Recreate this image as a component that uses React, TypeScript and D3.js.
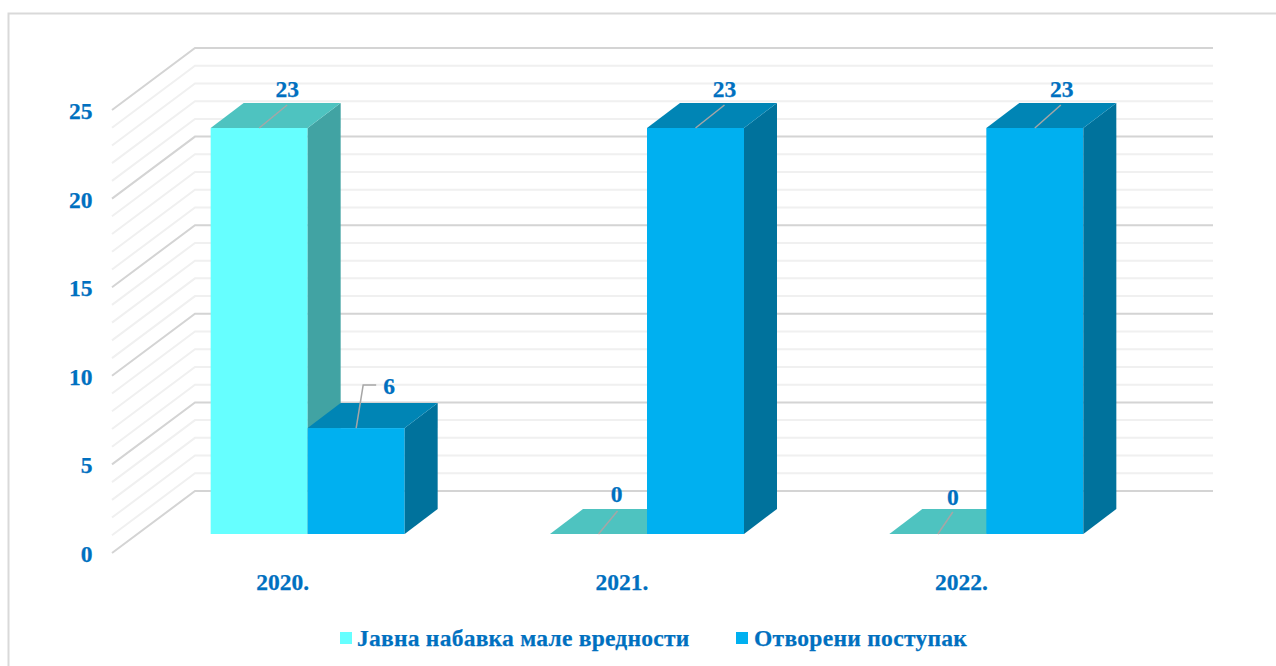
import React from "react";
import * as d3 from "d3";

const years = ["2020.", "2021.", "2022."];
const seriesNames = ["Јавна набавка мале вредности", "Отворени поступак"];
const smallValue = [23, 0, 0];
const openValue = [6, 23, 23];
const yTicks = [0, 5, 10, 15, 20, 25];
const minorTicks = d3.range(0, 26);

const frontFill = ["#66FFFF", "#00B0F0"];
const topFill = ["#4EC3C0", "#0085B5"];
const sideFill = ["#41A3A3", "#00729C"];
const TEXT = "#0070C0";
const FONT = "'Liberation Serif', serif";

export default function App() {
  const W = 1276, H = 666;
  const dx = 33, dy = -25;
  const wallDx = 83, wallDy = -62;
  const wallLeft = 112;
  const wallRight = 1213;
  const y = d3.scaleLinear().domain([0, 25]).range([553, 110]);
  const barY = d3.scaleLinear().domain([0, 23]).range([534, 128]);
  const x0 = d3.scaleBand().domain(years).range([138, 1156]);
  const bw = 97;
  const barX = (i: number, s: number) => (x0(years[i]) as number) + x0.bandwidth() / 2 - bw + s * bw;
  const series = [smallValue, openValue];

  // Hand-placed leader ends relative to the centre of each bar's top edge: [series][year]
  const leaderEnd = [
    [[28, -23], [19, -23], [15, -22]],
    [[7, -43], [29, -23], [26, -23]],
  ];
  const labelPos = [
    [[28, -31], [18, -32], [15, -29]],
    [[33, -34], [29, -31], [27, -31]],
  ];
  const textProps = {
    fontFamily: FONT,
    fontWeight: "bold",
    fontSize: 23.5,
    fill: TEXT,
    stroke: TEXT,
    strokeWidth: 0.25,
  };

  return (
    <svg width={W} height={H} style={{ position: "absolute", left: 0, top: 0, background: "#fff" }}>
      <path d={`M8.5,${H} V13.5 H${W}`} fill="none" stroke="#d9d9d9" strokeWidth={2} />
      {minorTicks.map((t) => {
        const major = t % 5 === 0;
        const yy = y(t);
        return (
          <path
            key={t}
            d={`M${wallLeft},${yy} L${wallLeft + wallDx},${yy + wallDy} H${wallRight}`}
            fill="none"
            stroke={major ? "#d4d4d4" : "#f0f0f0"}
            strokeWidth={2}
          />
        );
      })}
      {yTicks.map((t) => (
        <text key={t} x={92.5} y={y(t) + 9} textAnchor="end" {...textProps}>
          {t}
        </text>
      ))}
      {series.map((vals, s) =>
        vals.map((v, i) => {
          const x = barX(i, s);
          const top = barY(v);
          const base = barY(0);
          return (
            <g key={`${s}-${i}`}>
              {v > 0 && <rect x={x} y={top} width={bw} height={base - top} fill={frontFill[s]} />}
              {v > 0 && (
                <polygon
                  points={`${x + bw},${top} ${x + bw + dx},${top + dy} ${x + bw + dx},${base + dy} ${x + bw},${base}`}
                  fill={sideFill[s]}
                />
              )}
              <polygon
                points={`${x},${top} ${x + dx},${top + dy} ${x + bw + dx},${top + dy} ${x + bw},${top}`}
                fill={topFill[s]}
              />
            </g>
          );
        })
      )}
      {series.map((vals, s) =>
        vals.map((v, i) => {
          const x = barX(i, s) + bw / 2;
          const top = barY(v);
          const [ex, ey] = leaderEnd[s][i];
          const [lx, ly] = labelPos[s][i];
          const tail = v > 0 && v < 23 ? ` H${x + ex + 13}` : "";
          return (
            <g key={`${s}-${i}`}>
              <path d={`M${x},${top} L${x + ex},${top + ey}${tail}`} fill="none" stroke="#a6a6a6" strokeWidth={1.5} />
              <text x={x + lx} y={top + ly} textAnchor="middle" {...textProps}>
                {v}
              </text>
            </g>
          );
        })
      )}
      {years.map((yr) => (
        <text key={yr} x={(x0(yr) as number) + x0.bandwidth() / 2 - 25} y={590} textAnchor="middle" {...textProps}>
          {yr}
        </text>
      ))}
      <rect x={340} y={632} width={12} height={12} fill={frontFill[0]} />
      <text x={357} y={646} {...textProps} letterSpacing={0.25}>
        {seriesNames[0]}
      </text>
      <rect x={736} y={632} width={12} height={12} fill={frontFill[1]} />
      <text x={754} y={646} {...textProps} letterSpacing={0.3}>
        {seriesNames[1]}
      </text>
    </svg>
  );
}
